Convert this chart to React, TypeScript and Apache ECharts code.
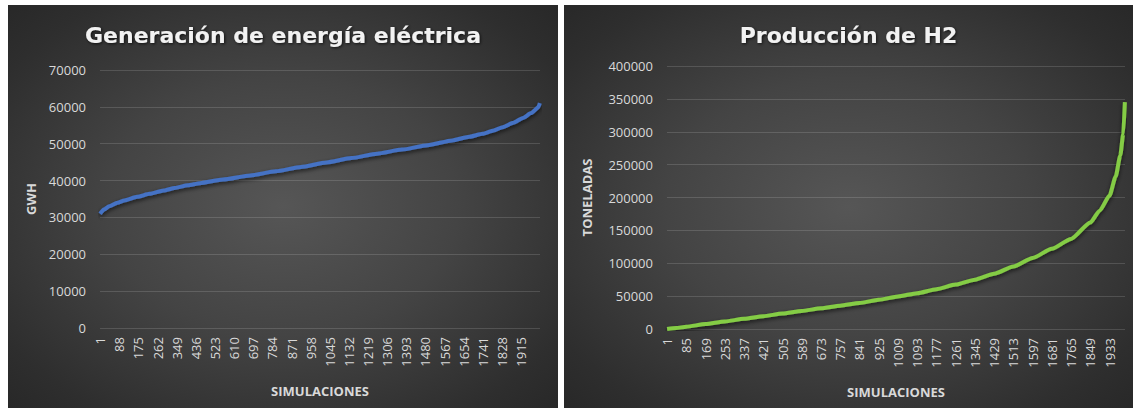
import React, { useEffect, useRef } from "react";
import * as echarts from "echarts";

// ---------- DATA ----------
const SIM_COUNT = 2000;
const simCategories: string[] = Array.from({ length: SIM_COUNT }, (_, i) => String(i + 1));

// Generación de energía eléctrica (GWh), sorted simulations
const elecSims = [1, 20, 42, 80, 111, 170, 226, 290, 340, 400, 455, 560, 684, 800, 914, 1030, 1143, 1260, 1373, 1490, 1602, 1680, 1740, 1790, 1831, 1880, 1923, 1960, 1992, 2000];
const elecValues = [31000, 32200, 33000, 34000, 34600, 35600, 36400, 37300, 38000, 38700, 39300, 40300, 41400, 42500, 43700, 44900, 46100, 47300, 48400, 49600, 50900, 51900, 52700, 53600, 54500, 55700, 57000, 58300, 59800, 61000];

// Producción de H2 (toneladas), sorted simulations
const h2Sims = [1, 40, 85, 169, 253, 337, 421, 505, 589, 673, 757, 841, 925, 1009, 1093, 1177, 1261, 1345, 1429, 1513, 1597, 1681, 1765, 1849, 1890, 1933, 1960, 1980, 1993, 2000];
const h2Values = [0, 1500, 3500, 7500, 11500, 15500, 19500, 23500, 27500, 31500, 35500, 39500, 44500, 49500, 54500, 60500, 67500, 75000, 84000, 95000, 108000, 122000, 137000, 162000, 180000, 203000, 232000, 264000, 297000, 345000];

const elecTicks = { min: 0, max: 70000, interval: 10000 };
const h2Ticks = { min: 0, max: 400000, interval: 50000 };

// ---------- STYLE ----------
const FONT = "'Open Sans', 'DejaVu Sans', sans-serif";
const TITLE_FONT = "'DejaVu Sans', 'Open Sans', sans-serif";
const LABEL_COLOR = "#d9d9d9";
const GRID_COLOR = "rgba(255,255,255,0.14)";

function buildOption(cfg: {
  title: string;
  yName: string;
  yNameGap: number;
  sims: number[];
  values: number[];
  ticks: { min: number; max: number; interval: number };
  labelInterval: number;
  color: string;
  grid: any;
}) {
  return {
    animation: false,
    backgroundColor: "transparent",
    title: {
      text: cfg.title,
      left: "center",
      top: 14,
      textStyle: {
        fontFamily: TITLE_FONT,
        fontSize: 22,
        fontWeight: "bold",
        color: "#f2f2f2",
        textShadowColor: "rgba(0,0,0,0.7)",
        textShadowBlur: 3,
        textShadowOffsetX: 1,
        textShadowOffsetY: 1,
      },
    },
    grid: cfg.grid,
    xAxis: {
      type: "category",
      data: simCategories,
      boundaryGap: true,
      name: "SIMULACIONES",
      nameLocation: "middle",
      nameGap: 56,
      nameTextStyle: { fontFamily: FONT, fontSize: 13, fontWeight: "bold", color: LABEL_COLOR },
      axisLine: { show: false },
      axisTick: { show: false },
      splitLine: { show: false },
      axisLabel: {
        interval: cfg.labelInterval,
        rotate: 90,
        margin: 9,
        fontFamily: FONT,
        fontSize: 13,
        color: LABEL_COLOR,
      },
    },
    yAxis: {
      type: "value",
      min: cfg.ticks.min,
      max: cfg.ticks.max,
      interval: cfg.ticks.interval,
      name: cfg.yName,
      nameLocation: "middle",
      nameRotate: 90,
      nameGap: cfg.yNameGap,
      nameTextStyle: { fontFamily: FONT, fontSize: 13, fontWeight: "bold", color: LABEL_COLOR },
      axisLine: { show: false },
      axisTick: { show: false },
      axisLabel: {
        margin: 14,
        fontFamily: FONT,
        fontSize: 13,
        color: LABEL_COLOR,
        formatter: (v: number) => String(v),
      },
      splitLine: { show: true, lineStyle: { color: GRID_COLOR, width: 1 } },
    },
    series: [
      {
        type: "line",
        data: cfg.sims.map((s, i) => [s - 1, cfg.values[i]]),
        showSymbol: false,
        smooth: 0.2,
        smoothMonotone: "x",
        lineStyle: {
          color: cfg.color,
          width: 4,
          shadowColor: "rgba(0,0,0,0.65)",
          shadowBlur: 4,
          shadowOffsetY: 2,
        },
        itemStyle: { color: cfg.color },
      },
    ],
  };
}

function ChartPanel(props: { style: React.CSSProperties; option: any }) {
  const ref = useRef<HTMLDivElement>(null);
  useEffect(() => {
    if (!ref.current) return;
    const chart = echarts.init(ref.current, undefined, { renderer: "svg" });
    chart.setOption(props.option);
    return () => chart.dispose();
  }, []);
  return (
    <div
      style={{
        position: "absolute",
        background: "radial-gradient(ellipse at 50% 50%, #565656 0%, #444444 45%, #2e2e2e 85%, #282828 100%)",
        ...props.style,
      }}
    >
      <div ref={ref} style={{ width: "100%", height: "100%" }} />
    </div>
  );
}

export default function App() {
  const elecOption = buildOption({
    title: "Generación de energía eléctrica",
    yName: "GWH",
    yNameGap: 63,
    sims: elecSims,
    values: elecValues,
    ticks: elecTicks,
    labelInterval: 86,
    color: "#4472c4",
    grid: { left: 92, right: 18, top: 65, bottom: 80 },
  });
  const h2Option = buildOption({
    title: "Producción de H2",
    yName: "TONELADAS",
    yNameGap: 74,
    sims: h2Sims,
    values: h2Values,
    ticks: h2Ticks,
    labelInterval: 83,
    color: "#84cc45",
    grid: { left: 103, right: 8, top: 61, bottom: 79 },
  });
  return (
    <div
      style={{
        position: "absolute",
        left: 0,
        top: 0,
        width: 1133,
        height: 408,
        background: "#ffffff",
        overflow: "hidden",
      }}
    >
      <ChartPanel style={{ left: 8, top: 5, width: 550, height: 403 }} option={elecOption} />
      <ChartPanel style={{ left: 564, top: 5, width: 569, height: 403 }} option={h2Option} />
    </div>
  );
}
